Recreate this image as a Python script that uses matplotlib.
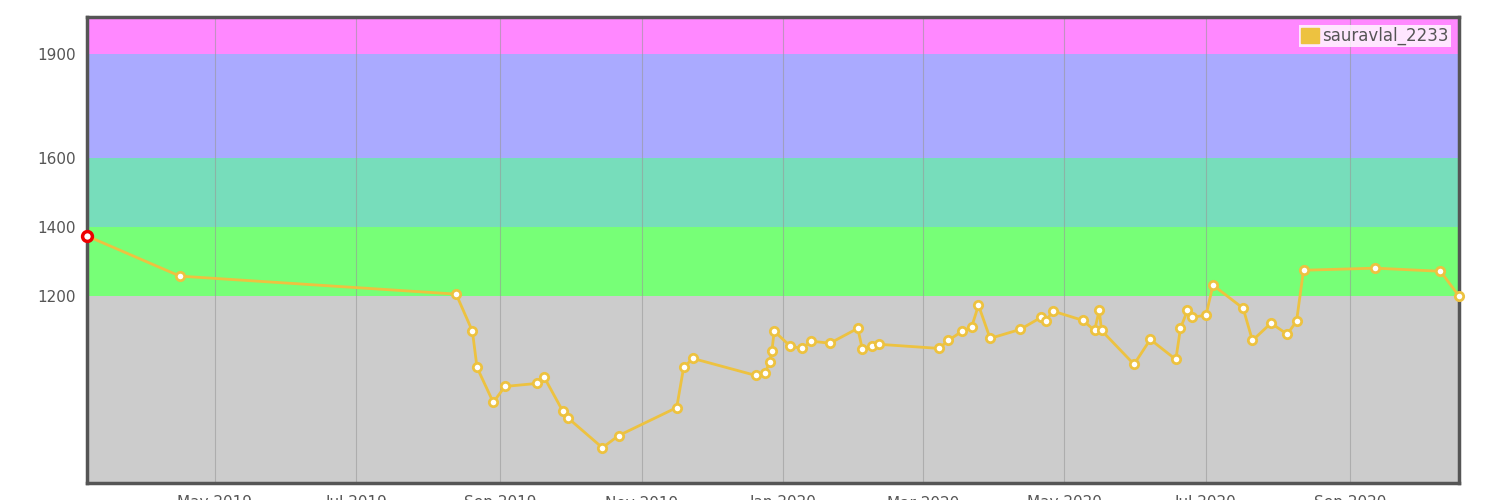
import matplotlib
matplotlib.use("Agg")
import matplotlib.pyplot as plt
import matplotlib.dates as mdates
import pandas as pd

dates = ["2019-03-07","2019-04-16","2019-08-13","2019-08-20","2019-08-22","2019-08-29","2019-09-03",
"2019-09-17","2019-09-20","2019-09-28","2019-09-30","2019-10-15","2019-10-22","2019-11-16","2019-11-19",
"2019-11-23","2019-12-20","2019-12-24","2019-12-26","2019-12-27","2019-12-28","2020-01-04","2020-01-09",
"2020-01-13","2020-01-21","2020-02-02","2020-02-04","2020-02-08","2020-02-11","2020-03-08","2020-03-12",
"2020-03-18","2020-03-22","2020-03-25","2020-03-30","2020-04-12","2020-04-21","2020-04-23","2020-04-26",
"2020-05-09","2020-05-14","2020-05-16","2020-05-17","2020-05-31","2020-06-07","2020-06-18","2020-06-20",
"2020-06-23","2020-06-25","2020-07-01","2020-07-04","2020-07-17","2020-07-21","2020-07-29","2020-08-05",
"2020-08-09","2020-08-12","2020-09-12","2020-10-10","2020-10-18"]
ratings = [1374,1258,1206,1099,994,893,939,948,965,867,849,762,797,878,994,1020,971,977,1009,1041,1099,
1055,1049,1070,1064,1107,1046,1055,1061,1049,1072,1099,1110,1174,1078,1104,1139,1128,1157,1130,1101,
1159,1101,1003,1075,1017,1107,1159,1139,1145,1232,1165,1072,1122,1090,1128,1275,1281,1272,1200]
bands = [(0,1200,"#cccccc"),(1200,1400,"#77ff77"),(1400,1600,"#77ddbb"),(1600,1900,"#aaaaff"),(1900,2100,"#ff88ff")]
yticks = [1200,1400,1600,1900]

x = pd.to_datetime(dates)
fig = plt.figure(figsize=(15,5), dpi=100)
ax = fig.add_axes([0.058,0.034,0.9147,0.932])
for lo,hi,c in bands:
    ax.axhspan(lo,hi,color=c,lw=0,zorder=0)
ax.set_ylim(660,2007)
ax.set_xlim(pd.Timestamp("2019-03-07"),pd.Timestamp("2020-10-18"))
ax.xaxis.set_major_locator(mdates.MonthLocator(bymonth=[1,3,5,7,9,11]))
ax.xaxis.set_major_formatter(mdates.DateFormatter("%b %Y"))
ax.grid(axis="x",color="#999999",lw=0.8,alpha=0.6,zorder=1)
ax.set_yticks(yticks)
ax.tick_params(length=0,labelsize=11,labelcolor="#555555",pad=8)
ax.tick_params(axis="x",pad=9)
ax.plot(x,ratings,color="#EDC240",lw=2,zorder=3,clip_on=False)
ax.scatter(x,ratings,s=36,facecolor="white",edgecolor="#EDC240",lw=2,zorder=4,clip_on=False)
ax.scatter(x[:1],ratings[:1],s=50,facecolor="white",edgecolor="#ee0000",lw=2.5,zorder=5,clip_on=False)
for s in ax.spines.values():
    s.set_color("#555555"); s.set_linewidth(2.5)
from matplotlib.patches import Patch
leg = ax.legend(handles=[Patch(facecolor="#EDC240",edgecolor="#EDC240",label="sauravlal_2233")],
    loc="upper right",fontsize=12,frameon=True,fancybox=False,borderpad=0.1,handlelength=1.1,handleheight=1,
    handletextpad=0.2,borderaxespad=0.5)
leg.get_frame().set_facecolor("white"); leg.get_frame().set_alpha(0.8); leg.get_frame().set_linewidth(0)
for t in leg.get_texts(): t.set_color("#555555")
fig.savefig("out.png")
